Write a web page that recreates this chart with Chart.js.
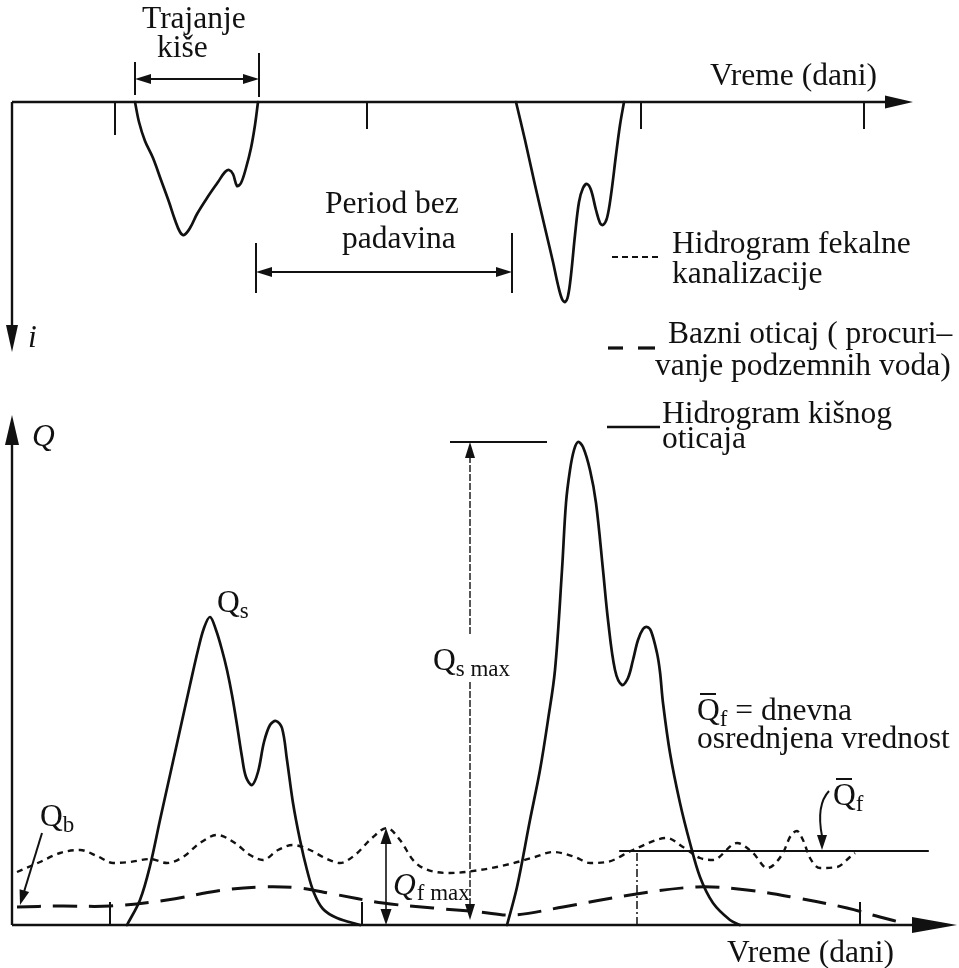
<!DOCTYPE html>
<html><head><meta charset="utf-8">
<script src="https://cdn.jsdelivr.net/npm/chart.js@4.4.1/dist/chart.umd.min.js"></script>
<style>html,body{margin:0;padding:0;background:#fff;overflow:hidden}canvas{display:block}</style>
</head><body>
<canvas id="c" width="959" height="968"></canvas>
<script>
// ---- Hyetograph (top panel), time in arbitrary day units, intensity i ----
const rainT1 = [12.3,12.7,13.3,14.1,14.9,15.7,16.3,16.8,17.2,17.8,18.5,19.5,20.6,21.3,21.7,22.1,22.5,22.9,23.4,23.9,24.3,24.6];
const rainI1 = [0,2.0,3.9,5.6,7.8,10.0,11.8,13.0,13.3,12.6,11.2,9.6,8.0,7.0,6.8,7.2,8.4,8.1,6.6,4.6,2.3,0];
const rainT2 = [50.4,51.3,52.3,53.3,54.1,54.6,55.0,55.3,55.6,55.9,56.3,56.7,57.1,57.5,57.9,58.4,58.8,59.1,59.5,59.9,60.4,60.8,61.2];
const rainI2 = [0,3.8,8.3,12.6,16.0,18.3,19.7,20.0,19.4,17.3,13.3,10.0,8.6,8.2,8.8,10.8,12.1,12.3,11.6,9.3,5.3,2.3,0];

// ---- Storm runoff hydrograph Qs (bottom panel) ----
const runoffT1 = [11.5,12.8,13.8,14.8,15.8,16.8,17.8,18.6,19.2,19.8,20.4,21.0,21.5,22.0,22.5,23.0,23.4,24.0,24.6,25.2,25.8,26.4,27.0,27.5,28.1,28.8,29.5,30.2,31.1,32.5,34.8];
const runoffQ1 = [0,2.5,5.9,10.5,15.0,19.5,24.0,27.5,29.7,30.8,29.5,27.5,25.5,23.0,20.0,16.8,14.8,14.0,15.3,18.3,20.0,20.4,19.7,16.5,12.2,8.5,5.5,3.2,1.6,0.7,0];
const runoffT2 = [49.5,50.5,51.8,52.8,53.6,54.3,55.0,55.4,55.8,56.2,56.6,57.1,57.8,58.4,59.1,59.6,60.3,61.0,61.6,62.1,62.6,63.1,63.5,63.9,64.5,64.8,65.1,65.8,66.8,67.8,68.8,70.1,71.8,72.8];
const runoffQ2 = [0,3.8,10.5,15.5,20.5,25.5,35.5,42.2,45.5,47.5,48.3,47.8,45.5,42.2,35.5,30.5,25.5,24.0,24.7,26.5,28.5,29.6,29.8,29.4,27.2,25.3,22.2,17.2,12.2,8.2,4.8,2.2,0.5,0];

// ---- Sanitary sewage hydrograph Qf (dotted) ----
const sewageT = [0.5,2.8,4.8,6.8,8.5,10.1,11.8,13.8,15.5,17.1,18.8,20.5,22.3,23.8,25.1,26.6,28.1,29.8,31.3,32.8,34.3,36.0,37.5,38.8,40.1,41.1,43.8,46.8,49.8,52.3,54.1,56.3,57.8,59.5,62.1,65.5,67.1,68.8,70.1,72.5,74.1,75.5,77.1,77.8,78.5,79.1,79.8,80.8,82.5,83.8,84.3];
const sewageQ = [5.3,6.3,7.2,7.5,6.9,6.2,6.3,6.6,6.2,6.8,8.2,9.0,8.2,7.0,6.5,7.5,8.0,7.5,6.7,6.2,7.0,8.7,9.7,8.5,6.5,5.7,5.2,5.5,6.1,6.8,7.3,6.8,6.2,6.3,7.5,8.7,7.8,6.7,6.5,8.2,7.2,5.7,7.2,8.8,9.4,8.5,6.7,5.7,5.8,6.8,7.2];

// ---- Base flow Qb (long dashes) ----
const baseT = [0.5,4.8,9.8,15.5,20.5,24.8,28.8,32.1,37.1,42.1,46.8,50.1,55.1,61.8,68.5,73.5,78.5,83.5,86.8,89.5];
const baseQ = [1.8,1.9,1.9,2.5,3.4,3.8,3.7,3.1,2.2,1.7,1.3,1.0,1.8,3.0,3.8,3.5,2.7,1.7,0.8,0.1];

// ---- Daily mean sewage flow (Q̄f) ----
const meanT = [60.8, 91.6];
const meanQ = [7.4, 7.4];

// ---- Day tick marks ----
const dayTicksTop = [10.3, 35.5, 62.9, 85.2];
const dayTicksBottom = [9.8, 35.0, 84.8];
const dayTickMean = 62.5;

const xy = (ts, vs) => ts.map((t, k) => ({x: t, y: vs[k]}));
const FONT = '"Liberation Serif", "Times New Roman", serif';
const FS = 31.5, SUB = 23;
const INK = '#111';

function head(ctx, tx, ty, ang, len, hw) {
  ctx.save(); ctx.translate(tx, ty); ctx.rotate(ang);
  ctx.beginPath(); ctx.moveTo(0, 0); ctx.lineTo(-len, -hw); ctx.lineTo(-len, hw); ctx.closePath();
  ctx.fill(); ctx.restore();
}
function seg(ctx, x1, y1, x2, y2, w, dash) {
  ctx.save(); ctx.lineWidth = w; ctx.setLineDash(dash || []);
  ctx.beginPath(); ctx.moveTo(x1, y1); ctx.lineTo(x2, y2); ctx.stroke(); ctx.restore();
}
function txt(ctx, s, x, y, size, style) {
  ctx.font = (style || '') + ' ' + (size || FS) + 'px ' + FONT;
  ctx.fillText(s, x, y);
  return ctx.measureText(s).width;
}
function qsym(ctx, x, y, sub, italic, bar) {
  const w = txt(ctx, 'Q', x, y, FS, italic ? 'italic' : '');
  if (bar) seg(ctx, x + 3, y - 26, x + 19, y - 26, 2);
  const w2 = txt(ctx, sub, x + w, y + 6, SUB, '');
  return w + w2;
}

const overlay = {
  id: 'overlay',
  beforeDraw(chart) {
    const c = chart.ctx; c.save(); c.fillStyle = '#fff'; c.fillRect(0, 0, chart.width, chart.height); c.restore();
  },
  afterDatasetsDraw(chart) {
    const ctx = chart.ctx, X = chart.scales.x, YI = chart.scales.yi, YQ = chart.scales.yq;
    const px = t => X.getPixelForValue(t), pi = v => YI.getPixelForValue(v), pq = v => YQ.getPixelForValue(v);
    ctx.save();
    ctx.strokeStyle = INK; ctx.fillStyle = INK; ctx.lineCap = 'butt';
    ctx.textBaseline = 'alphabetic'; ctx.textAlign = 'left';

    // ===== TOP PANEL AXES =====
    seg(ctx, px(0), pi(0), px(90.1) - 20, pi(0), 2.4);
    head(ctx, px(90.1), pi(0), 0, 28, 6.5);
    seg(ctx, px(0), pi(0), px(0), pi(25.0) - 20, 2.4);
    head(ctx, px(0), pi(25.0), Math.PI / 2, 27, 6);
    dayTicksTop.forEach((t, k) => seg(ctx, px(t), pi(0), px(t), pi(k === 0 ? 3.3 : 2.7), 2));
    txt(ctx, 'i', px(1.6), pi(24.5), FS, 'italic');
    txt(ctx, 'Vreme (dani)', px(69.8), pi(-1.7));

    // Trajanje kiše
    const s1 = rainT1[0], e1 = rainT1[rainT1.length - 1] + 0.1;
    seg(ctx, px(s1), pi(-4.0), px(s1), pi(-0.7), 2);
    seg(ctx, px(e1), pi(-4.9), px(e1), pi(-0.5), 2);
    seg(ctx, px(s1) + 8, pi(-2.3), px(e1) - 8, pi(-2.3), 2.2);
    head(ctx, px(s1), pi(-2.3), Math.PI, 16, 5);
    head(ctx, px(e1), pi(-2.3), 0, 16, 5);
    txt(ctx, 'Trajanje', px(13.0), pi(-7.4));
    txt(ctx, 'kiše', px(14.5), pi(-4.5));

    // Period bez padavina
    const s2 = rainT2[0] - 0.4;
    seg(ctx, px(e1) - 3, pi(14.1), px(e1) - 3, pi(19.1), 2);
    seg(ctx, px(s2), pi(13.1), px(s2), pi(19.1), 2);
    seg(ctx, px(e1) + 6, pi(17.0), px(s2) - 6, pi(17.0), 1.8);
    head(ctx, px(e1) - 3, pi(17.0), Math.PI, 16, 5);
    head(ctx, px(s2), pi(17.0), 0, 16, 5);
    txt(ctx, 'Period bez', px(31.3), pi(11.1));
    txt(ctx, 'padavina', px(33.0), pi(14.6));

    // Legend
    seg(ctx, px(60.0), pi(15.5), px(65.0), pi(15.5), 2.2, [6, 4]);
    txt(ctx, 'Hidrogram fekalne', px(66.0), pi(15.1));
    txt(ctx, 'kanalizacije', px(66.0), pi(18.1));
    seg(ctx, px(59.6), pi(24.6), px(61.1), pi(24.6), 3.2);
    seg(ctx, px(62.6), pi(24.6), px(64.3), pi(24.6), 3.2);
    txt(ctx, 'Bazni oticaj ( procuri–', px(65.6), pi(24.1));
    txt(ctx, 'vanje podzemnih voda)', px(64.3), pi(27.3));
    seg(ctx, px(59.5), pi(32.5), px(64.8), pi(32.5), 2.4);
    txt(ctx, 'Hidrogram kišnog', px(65.0), pi(32.1));
    txt(ctx, 'oticaja', px(65.0), pi(34.6));

    // ===== BOTTOM PANEL AXES =====
    seg(ctx, px(0), pq(0), px(0), pq(51.0) + 20, 2.4);
    head(ctx, px(0), pq(51.0), -Math.PI / 2, 30, 7);
    seg(ctx, px(0), pq(0), px(94.5) - 30, pq(0), 2.6);
    head(ctx, px(94.5), pq(0), 0, 45, 8);
    dayTicksBottom.forEach(t => seg(ctx, px(t), pq(0), px(t), pq(2.3), 2));
    seg(ctx, px(dayTickMean), pq(0), px(dayTickMean), pq(meanQ[0]), 1.5, [8, 3, 2, 3]);
    txt(ctx, 'Q', px(2.0), pq(47.9), FS, 'italic');
    txt(ctx, 'Vreme (dani)', px(71.5), pq(-3.7));

    // Qs label at first peak
    qsym(ctx, px(20.5), pq(31.3), 's', false, false);

    // Qs max dimension
    const qsMax = Math.max.apply(null, runoffQ2);
    const tq = 45.8;
    seg(ctx, px(43.8), pq(qsMax), px(53.5), pq(qsMax), 2.2);
    seg(ctx, px(tq), pq(qsMax) + 14, px(tq), pq(29), 1.4, [7, 2]);
    seg(ctx, px(tq), pq(24.3), px(tq), pq(0.5) - 14, 1.4, [7, 2]);
    head(ctx, px(tq), pq(qsMax), -Math.PI / 2, 16, 5);
    head(ctx, px(tq), pq(0.5), Math.PI / 2, 16, 5);
    qsym(ctx, px(42.1), pq(25.5), 's max', false, false);

    // Qf max dimension
    const qfPeak = 9.7, tf = 37.4;
    seg(ctx, px(tf), pq(qfPeak) + 12, px(tf), pq(0) - 12, 1.6);
    head(ctx, px(tf), pq(qfPeak), -Math.PI / 2, 16, 5.5);
    head(ctx, px(tf), pq(0), Math.PI / 2, 16, 5.5);
    const wq = txt(ctx, 'Q', px(38.1), pq(3.0), FS, 'italic');
    txt(ctx, 'f max', px(38.1) + wq + 1, pq(2.5), SUB);

    // Qb label and arrow
    qsym(ctx, px(2.8), pq(9.9), 'b', false, false);
    {
      const x1 = px(3.0), y1 = pq(9.2), x2 = px(0.8), y2 = pq(2.0);
      const a = Math.atan2(y2 - y1, x2 - x1);
      seg(ctx, x1, y1, x2 - 12 * Math.cos(a), y2 - 12 * Math.sin(a), 2);
      head(ctx, x2, y2, a, 15, 5);
    }

    // Q̄f = dnevna osrednjena vrednost
    const wb = qsym(ctx, px(68.5), pq(20.5), 'f', false, true);
    txt(ctx, ' = dnevna', px(68.5) + wb, pq(20.5));
    txt(ctx, 'osrednjena vrednost', px(68.5), pq(17.7));

    // Q̄f label with curved arrow
    qsym(ctx, px(82.1), pq(12.0), 'f', false, true);
    ctx.save(); ctx.lineWidth = 2;
    ctx.beginPath(); ctx.moveTo(px(81.7), pq(13.4));
    ctx.quadraticCurveTo(px(80.4), pq(12.0), px(81.0), pq(8.9));
    ctx.stroke(); ctx.restore();
    head(ctx, px(81.0), pq(meanQ[0]) - 1, Math.PI / 2, 15, 5);

    ctx.restore();
  }
};

const lineDs = (data, yAxisID, extra) => Object.assign({
  data, yAxisID, xAxisID: 'x', borderColor: INK, borderWidth: 2.7, pointRadius: 0,
  fill: false, tension: 0.35, borderCapStyle: 'round', borderJoinStyle: 'round'
}, extra || {});

new Chart(document.getElementById('c'), {
  type: 'line',
  data: {
    datasets: [
      lineDs(xy(rainT1, rainI1), 'yi'),
      lineDs(xy(rainT2, rainI2), 'yi'),
      lineDs(xy(baseT, baseQ), 'yq', {borderDash: [24, 12], borderWidth: 3, borderCapStyle: 'butt'}),
      lineDs(xy(sewageT, sewageQ), 'yq', {borderDash: [6, 5], borderWidth: 2.4, borderCapStyle: 'butt', cubicInterpolationMode: 'monotone'}),
      lineDs(xy(meanT, meanQ), 'yq', {borderWidth: 2.2, tension: 0}),
      lineDs(xy(runoffT1, runoffQ1), 'yq'),
      lineDs(xy(runoffT2, runoffQ2), 'yq')
    ]
  },
  options: {
    responsive: false, animation: false, devicePixelRatio: 1,
    layout: {padding: 0, autoPadding: false},
    plugins: {legend: {display: false}, tooltip: {enabled: false}},
    scales: {
      x: {type: 'linear', min: -1.2, max: 94.7, display: false},
      yi: {type: 'linear', reverse: true, min: -10.2, max: 86.6, display: false},
      yq: {type: 'linear', min: -4.3, max: 92.5, display: false}
    }
  },
  plugins: [overlay]
});
</script>
</body></html>
